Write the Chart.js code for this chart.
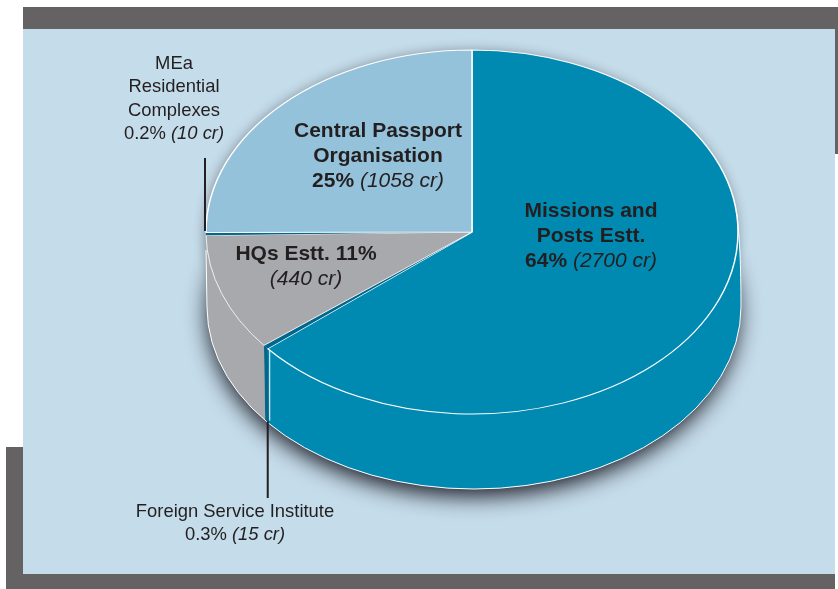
<!DOCTYPE html>
<html>
<head>
<meta charset="utf-8">
<title>Expenditure pie</title>
<script src="https://cdn.jsdelivr.net/npm/chart.js@4/dist/chart.umd.min.js"></script>
<style>
  html, body { margin: 0; padding: 0; background: #fff; }
  #page { position: relative; width: 838px; height: 589px; overflow: hidden; }
  .bar { position: absolute; background: #656263; }
  #panel { position: absolute; left: 23px; top: 29px; width: 812px; height: 545px; background: #c5dcea; }
  canvas { position: absolute; left: 0; top: 0; }
</style>
</head>
<body>
<div id="page">
  <div class="bar" style="left:23px;top:7px;width:815px;height:22px"></div>
  <div class="bar" style="left:835px;top:7px;width:3px;height:147px"></div>
  <div class="bar" style="left:6px;top:447px;width:17px;height:142px"></div>
  <div class="bar" style="left:6px;top:574px;width:829px;height:15px"></div>
  <div id="panel"></div>
  <canvas id="chartCanvas" width="838" height="589"></canvas>
</div>
<script>
const categories = [
    'Missions and Posts Estt.',
    'Foreign Service Institute',
    'HQs Estt.',
    'MEa Residential Complexes',
    'Central Passport Organisation'
];
const crores = [2700, 15, 440, 10, 1058];
const sliceColors = ['#008ab1', '#00688f', '#a7a9ac', '#00688f', '#94c2da'];
const sliceBorders = [1.5, 0, 1, 0, 1.5];

const textDark = '#231f20';
const sans = '"Liberation Sans", Arial, sans-serif';

// top face ellipse and the lower rim of the drum, in page pixels
const face = { x: 472, y: 232, rx: 266, ry: 182 };
const rim = { x: 474, y: 307, rx: 267, ry: 182 };

// [text, style] runs per line, centred on the label's x
const labels = [
    { x: 591, y: 211, lines: [[['Missions and', 'b']], [['Posts Estt.', 'b']], [['64% ', 'b'], ['(2700 cr)', 'i']]] },
    { x: 378, y: 131, lines: [[['Central Passport', 'b']], [['Organisation', 'b']], [['25% ', 'b'], ['(1058 cr)', 'i']]] },
    { x: 306, y: 254, lines: [[['HQs Estt. 11%', 'b']], [['(440 cr)', 'i']]] },
    { x: 174, y: 64, small: true, lines: [[['MEa', 'r']], [['Residential', 'r']], [['Complexes', 'r']], [['0.2% ', 'r'], ['(10 cr)', 'i']]] },
    { x: 235, y: 512, small: true, lines: [[['Foreign Service Institute', 'r']], [['0.3% ', 'r'], ['(15 cr)', 'i']]] }
];

function fontFor(style, small) {
    const size = small ? 18.4 : 21;
    if (style === 'b') return 'bold ' + size + 'px ' + sans;
    if (style === 'i') return 'italic ' + size + 'px ' + sans;
    return size + 'px ' + sans;
}

function sidePath(ctx, a, b) {
    ctx.beginPath();
    ctx.ellipse(face.x, face.y, face.rx, face.ry, 0, a, b);
    ctx.ellipse(rim.x, rim.y, rim.rx, rim.ry, 0, b, a, true);
    ctx.closePath();
}

const drumPlugin = {
    id: 'drum',
    beforeDatasetsDraw(chart) {
        const ctx = chart.ctx;
        const arcs = chart.getDatasetMeta(0).data;

        // soft shadow, heavy under the drum and faint round the top
        ctx.save();
        ctx.shadowColor = 'rgba(30,30,40,0.45)';
        ctx.shadowBlur = 12;
        ctx.shadowOffsetX = -1;
        ctx.shadowOffsetY = 1;
        ctx.fillStyle = '#8a8a8a';
        ctx.beginPath();
        ctx.ellipse(face.x, face.y, face.rx, face.ry, 0, 0, Math.PI * 2);
        ctx.fill();
        ctx.shadowColor = 'rgba(25,25,35,1)';
        ctx.shadowBlur = 22;
        ctx.shadowOffsetX = -1;
        ctx.shadowOffsetY = 9;
        ctx.beginPath();
        ctx.ellipse(rim.x, rim.y - 2, rim.rx - 2, rim.ry, 0, 0, Math.PI * 2);
        ctx.fill();
        ctx.restore();

        // shoulder joining the right edge of the face to the rim
        const tilt = -0.1;
        const sx = face.x + face.rx * Math.cos(tilt);
        const sy = face.y + face.ry * Math.sin(tilt);
        ctx.beginPath();
        ctx.moveTo(sx, sy);
        ctx.quadraticCurveTo(rim.x + rim.rx, sy + 30, rim.x + rim.rx, rim.y);
        ctx.lineTo(face.x, rim.y);
        ctx.lineTo(face.x, sy);
        ctx.closePath();
        ctx.fillStyle = sliceColors[0];
        ctx.fill();

        // side wall, only where a slice faces the viewer
        arcs.forEach((arc, i) => {
            const a = Math.max(arc.startAngle, 0);
            const b = Math.min(arc.endAngle, Math.PI);
            if (b <= a) return;
            sidePath(ctx, a, b);
            ctx.fillStyle = sliceColors[i];
            ctx.fill();
        });

        ctx.save();
        ctx.strokeStyle = '#fff';
        ctx.lineWidth = 1;
        ctx.beginPath();
        ctx.moveTo(sx, sy);
        ctx.quadraticCurveTo(rim.x + rim.rx, sy + 30, rim.x + rim.rx, rim.y);
        ctx.ellipse(rim.x, rim.y, rim.rx, rim.ry, 0, 0, Math.PI);
        ctx.lineTo(face.x - face.rx, face.y + 18);
        ctx.stroke();
        ctx.restore();

        // squash the round pie onto the top face
        const first = arcs[0];
        const r = first.outerRadius;
        ctx.save();
        ctx.translate(face.x, face.y);
        ctx.scale(face.rx / r, face.ry / r);
        ctx.translate(-first.x, -first.y);
    },
    afterDatasetsDraw(chart) {
        const ctx = chart.ctx;
        ctx.restore();

        // leader lines
        const foot = chart.getDatasetMeta(0).data[0].endAngle;
        const footX = face.x + face.rx * Math.cos(foot);
        const footY = face.y + face.ry * Math.sin(foot);
        ctx.save();
        ctx.strokeStyle = textDark;
        ctx.lineWidth = 2;
        ctx.beginPath();
        ctx.moveTo(205, 158);
        ctx.lineTo(205, 231);
        ctx.moveTo(footX, footY + 73);
        ctx.lineTo(footX, 498);
        ctx.stroke();
        ctx.strokeStyle = '#fff';
        ctx.lineWidth = 1;
        ctx.beginPath();
        ctx.moveTo(footX + 2, footY + 2);
        ctx.lineTo(footX + 2, footY + 72);
        ctx.stroke();
        ctx.restore();

        // labels
        ctx.save();
        ctx.fillStyle = textDark;
        ctx.textBaseline = 'middle';
        ctx.textAlign = 'left';
        labels.forEach(label => {
            const step = label.small ? 23.3 : 25;
            label.lines.forEach((runs, n) => {
                let width = 0;
                runs.forEach(run => {
                    ctx.font = fontFor(run[1], label.small);
                    width += ctx.measureText(run[0]).width;
                });
                let x = label.x - width / 2;
                runs.forEach(run => {
                    ctx.font = fontFor(run[1], label.small);
                    ctx.fillText(run[0], x, label.y + n * step);
                    x += ctx.measureText(run[0]).width;
                });
            });
        });
        ctx.restore();
    }
};

new Chart(document.getElementById('chartCanvas').getContext('2d'), {
    type: 'pie',
    plugins: [drumPlugin],
    data: {
        labels: categories,
        datasets: [{
            data: crores,
            backgroundColor: sliceColors,
            borderColor: '#fff',
            borderWidth: sliceBorders,
            hoverOffset: 0,
            clip: false
        }]
    },
    options: {
        responsive: false,
        animation: false,
        events: [],
        layout: { padding: { left: 150, right: 150, top: 20, bottom: 20 } },
        plugins: { legend: { display: false }, tooltip: { enabled: false } }
    }
});
</script>
</body>
</html>
